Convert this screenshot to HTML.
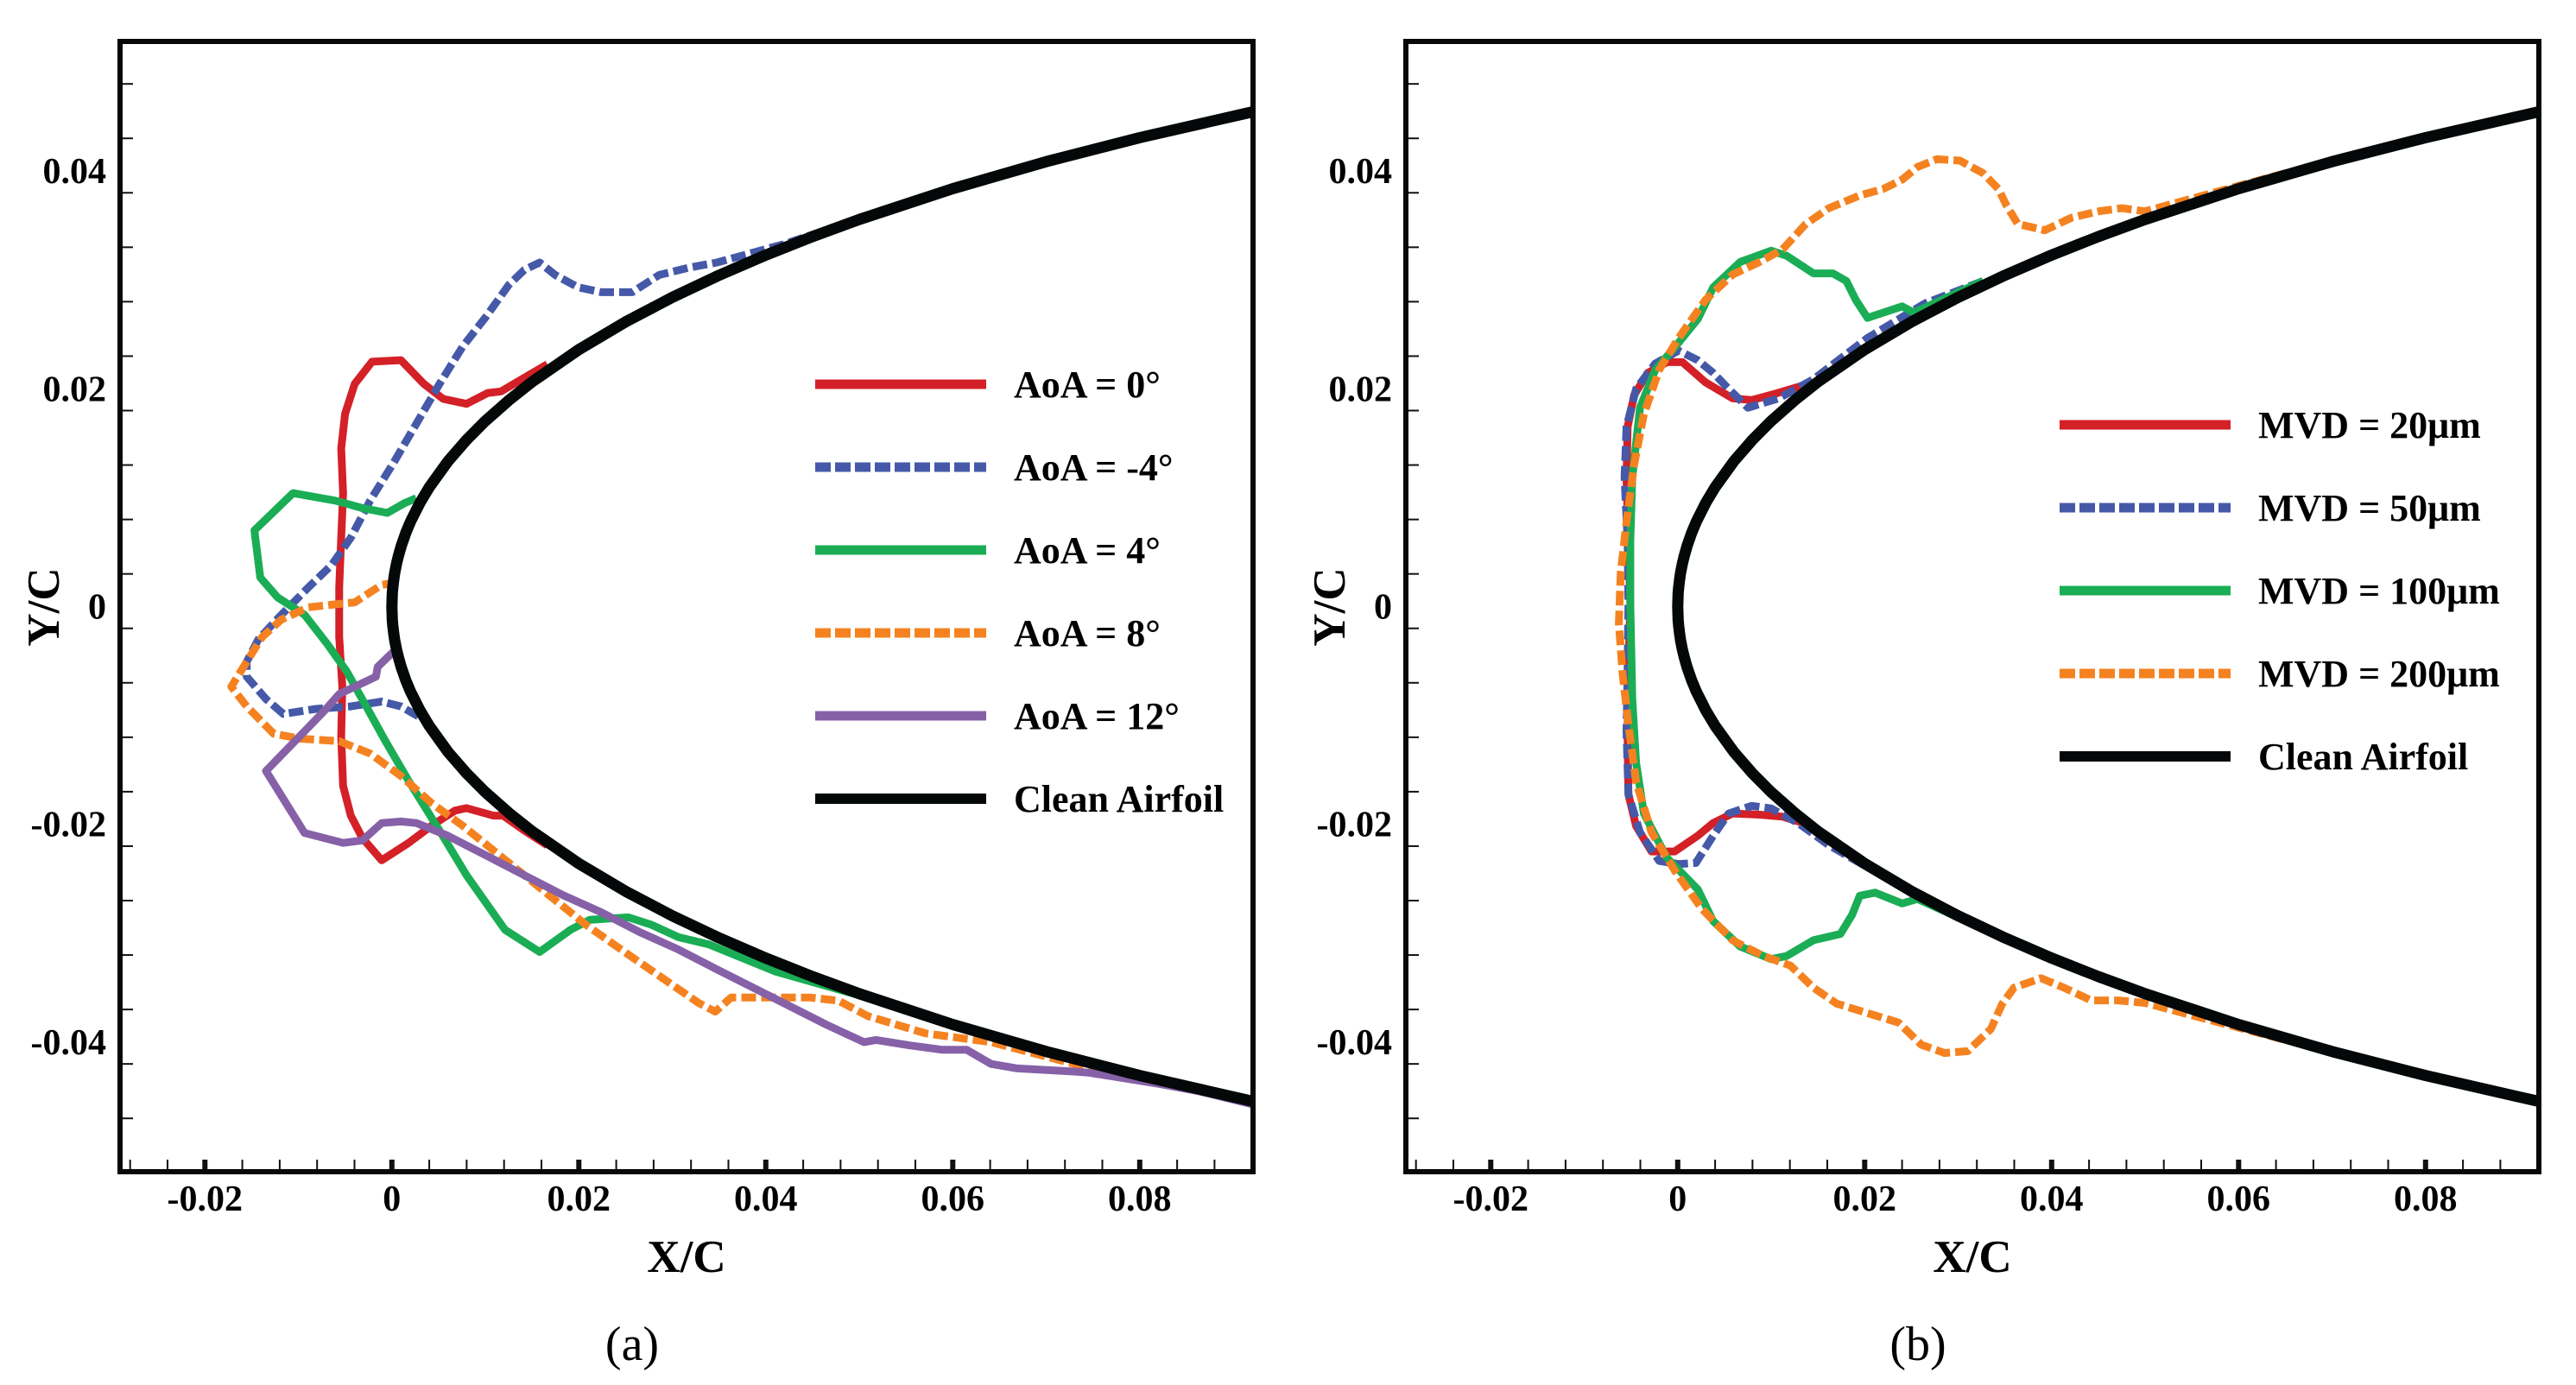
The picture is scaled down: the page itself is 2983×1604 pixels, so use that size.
<!DOCTYPE html>
<html><head><meta charset="utf-8">
<style>
html,body{margin:0;padding:0;background:#fff;}
svg{display:block;}
text{font-family:"Liberation Serif",serif;}
</style></head>
<body>
<svg id="fig" width="2983" height="1604" viewBox="0 0 2983 1604" xmlns="http://www.w3.org/2000/svg"></svg>
<script>
// ---------- data ----------
const xTicks = [-0.02, 0, 0.02, 0.04, 0.06, 0.08];
const xTickLabels = ["-0.02", "0", "0.02", "0.04", "0.06", "0.08"];
const yTicks = [-0.04, -0.02, 0, 0.02, 0.04];
const yTickLabels = ["-0.04", "-0.02", "0", "0.02", "0.04"];

const airfoilX = [0, 0.00005, 0.0001, 0.0002, 0.0003, 0.0005, 0.0007, 0.001, 0.0015, 0.002, 0.003, 0.004, 0.006, 0.008, 0.01, 0.0125, 0.015, 0.02, 0.025, 0.03, 0.035, 0.04, 0.045, 0.05, 0.06, 0.07, 0.08, 0.092];
const airfoilY = [0, 0.001256, 0.001774, 0.002504, 0.003063, 0.00395, 0.00466, 0.00556, 0.006786, 0.00781, 0.009529, 0.01096, 0.01334, 0.01532, 0.01704, 0.018938, 0.02064, 0.0236, 0.026146, 0.0284, 0.03043, 0.03228, 0.033976, 0.03555, 0.03838, 0.04086, 0.04307, 0.04542];

// (a) angle of attack
const aoa0X = [0.01664,0.01169,0.01025,0.00798,0.0055,0.00344,0.00097,-0.00212,-0.00398,-0.00501,-0.00542,-0.00522,-0.00542,-0.00563,-0.00563,-0.0053,-0.00542,-0.00522,-0.0044,-0.00316,-0.00109,0.00179,0.00427,0.00674,0.00798,0.01086,0.0119,0.01416,0.01664];
const aoa0Y = [0.02226,0.01976,0.01962,0.01862,0.01907,0.02044,0.02263,0.02249,0.02044,0.01771,0.01452,0.01042,0.00632,0.00176,-0.0028,-0.00735,-0.01191,-0.01646,-0.0192,-0.02125,-0.0233,-0.0217,-0.02011,-0.01874,-0.01851,-0.0192,-0.0192,-0.02056,-0.02193];
const aoaM4X = [0.05,0.042,0.03478,0.0319,0.0286,0.02571,0.02241,0.01994,0.01746,0.01581,0.01416,0.01251,0.01004,0.00756,0.00509,0.00262,0.00014,-0.00233,-0.0044,-0.00646,-0.00893,-0.01182,-0.01429,-0.01553,-0.01553,-0.01347,-0.01161,-0.00811,-0.0044,-0.00109,0.00097,0.00282];
const aoaM4Y = [0.0356,0.0333,0.0316,0.03115,0.03046,0.02887,0.02887,0.02932,0.03046,0.0316,0.03092,0.02955,0.02659,0.02386,0.02044,0.0168,0.01315,0.00973,0.00632,0.00381,0.00176,-0.00075,-0.00302,-0.00507,-0.00644,-0.00849,-0.00986,-0.0094,-0.00917,-0.00872,-0.00917,-0.01008];
const aoa4X = [0.00261,0.00138,-0.00048,-0.00316,-0.00605,-0.01058,-0.01471,-0.01408,-0.01223,-0.00934,-0.00687,-0.00481,-0.00274,-0.00068,0.00179,0.00509,0.00798,0.0121,0.01581,0.01911,0.02117,0.0253,0.02777,0.03066,0.03396,0.041,0.05];
const aoa4Y = [0.00996,0.00951,0.0086,0.00905,0.00973,0.01042,0.007,0.00267,0.00085,-0.00075,-0.00348,-0.00598,-0.00917,-0.01236,-0.01601,-0.02056,-0.02467,-0.02968,-0.03172,-0.02968,-0.02876,-0.02854,-0.02922,-0.03036,-0.03104,-0.0335,-0.0357];
const aoa8X = [0.00055,-0.00109,-0.00233,-0.00398,-0.00646,-0.00893,-0.01182,-0.01388,-0.01553,-0.01718,-0.01553,-0.01264,-0.00975,-0.00563,-0.00233,0.00097,0.00427,0.00756,0.01086,0.01416,0.01746,0.02076,0.0252,0.0328,0.0346,0.0363,0.0403,0.0447,0.0478,0.0509,0.0571,0.0641,0.073,0.08];
const aoa8Y = [0.00222,0.00199,0.00131,0.00039,0.00017,-0.00006,-0.0012,-0.0028,-0.00507,-0.00735,-0.00917,-0.01168,-0.01213,-0.01236,-0.0135,-0.01555,-0.01806,-0.02011,-0.02239,-0.02467,-0.02695,-0.02922,-0.0319,-0.0364,-0.0372,-0.0359,-0.0359,-0.0359,-0.0362,-0.0376,-0.0392,-0.04,-0.042,-0.0432];
const aoa12X = [0.00014,-0.00151,-0.00171,-0.00563,-0.00728,-0.00934,-0.01347,-0.00934,-0.00522,-0.00316,-0.00109,0.00097,0.00262,0.00592,0.01004,0.01416,0.01829,0.02241,0.02653,0.03066,0.03478,0.0465,0.0505,0.0518,0.0554,0.0589,0.0615,0.0641,0.0668,0.073,0.0745,0.0775,0.0819,0.0863,0.092];
const aoa12Y = [-0.00416,-0.00553,-0.00644,-0.00803,-0.00963,-0.01145,-0.0151,-0.02079,-0.0217,-0.02147,-0.01988,-0.01974,-0.01988,-0.02102,-0.02284,-0.02467,-0.02649,-0.02808,-0.0299,-0.0315,-0.03332,-0.0384,-0.04,-0.0398,-0.0403,-0.0407,-0.0407,-0.042,-0.0424,-0.0427,-0.0428,-0.0432,-0.0438,-0.0445,-0.0457];

// (b) median volume diameter
const mvd20X = [0.01452,0.0104,0.00792,0.00586,0.00297,0.0005,-0.00115,-0.00321,-0.00466,-0.00536,-0.00548,-0.00527,-0.00507,-0.00527,-0.00536,-0.00527,-0.00445,-0.0028,-0.00033,0.00215,0.0038,0.00586,0.00875,0.01122,0.01452];
const mvd20Y = [0.02059,0.01954,0.01896,0.01913,0.02059,0.02245,0.02245,0.02146,0.01942,0.01651,0.01185,0.00603,0.00021,-0.00561,-0.01143,-0.01725,-0.02016,-0.02249,-0.02249,-0.02104,-0.01987,-0.019,-0.01911,-0.01929,-0.02016];
const mvd50X = [0.03267,0.02648,0.0203,0.01452,0.01081,0.00751,0.00545,0.0038,0.00215,0.00009,-0.00239,-0.00445,-0.00548,-0.00569,-0.00536,-0.00527,-0.00536,-0.00548,-0.00527,-0.00404,-0.00198,0.00009,0.00194,0.0038,0.00545,0.00792,0.00999,0.01287,0.01617,0.0203,0.02648,0.03267];
const mvd50Y = [0.0299,0.02786,0.02466,0.02088,0.01913,0.01826,0.02,0.02146,0.02262,0.0235,0.02233,0.02,0.01651,0.01185,0.00603,0.00021,-0.00561,-0.01143,-0.01725,-0.02074,-0.02336,-0.02365,-0.02354,-0.02104,-0.019,-0.0183,-0.01853,-0.01987,-0.02191,-0.02394,-0.02685,-0.02959];
const mvd100X = [0.03267,0.02525,0.02401,0.0203,0.01906,0.01803,0.01659,0.01452,0.01164,0.00999,0.00669,0.0038,0.00215,-0.00033,-0.00239,-0.00404,-0.00486,-0.00507,-0.00507,-0.00486,-0.00445,-0.00362,-0.00115,0.00215,0.0038,0.00669,0.00999,0.01164,0.01452,0.01741,0.01865,0.01947,0.02112,0.02401,0.02566,0.03267];
const mvd100Y = [0.0299,0.02699,0.02757,0.02652,0.02815,0.0299,0.0306,0.0306,0.03223,0.03269,0.03165,0.02932,0.02641,0.02379,0.02175,0.01826,0.01185,0.00603,0.00021,-0.00852,-0.01434,-0.019,-0.02307,-0.02598,-0.02889,-0.03122,-0.03238,-0.03209,-0.03064,-0.03006,-0.02831,-0.02656,-0.02627,-0.02726,-0.02685,-0.02959];
const mvd200X = [0.065,0.05,0.04751,0.04504,0.04215,0.03926,0.03638,0.03514,0.03432,0.03267,0.03019,0.02772,0.02566,0.02401,0.02195,0.01947,0.01617,0.0137,0.01122,0.00875,0.00586,0.00297,0.00009,-0.00198,-0.00362,-0.00466,-0.00548,-0.0061,-0.0063,-0.00589,-0.00527,-0.00445,-0.0028,-0.00033,0.00256,0.00586,0.00916,0.01205,0.01452,0.017,0.0203,0.0236,0.02607,0.02855,0.03102,0.0335,0.03473,0.03597,0.03886,0.04133,0.04422,0.04711,0.05,0.065];
const mvd200Y = [0.0398,0.0363,0.03659,0.0363,0.03572,0.03456,0.03514,0.03688,0.03834,0.0398,0.04096,0.04108,0.04038,0.03921,0.03834,0.03776,0.03659,0.03514,0.03281,0.03165,0.03048,0.02816,0.02466,0.02175,0.01767,0.01302,0.00778,0.00312,-0.00153,-0.00619,-0.01085,-0.01609,-0.02074,-0.02423,-0.02773,-0.03064,-0.03209,-0.03296,-0.035,-0.03646,-0.03733,-0.0382,-0.04024,-0.041,-0.04083,-0.03879,-0.03646,-0.035,-0.03413,-0.035,-0.03617,-0.03617,-0.0364,-0.0398];

// ---------- rendering ----------
const NS = "http://www.w3.org/2000/svg";
const svg = document.getElementById("fig");
function mk(tag, attrs, parent) {
  const e = document.createElementNS(NS, tag);
  for (const k in attrs) e.setAttribute(k, attrs[k]);
  (parent || svg).appendChild(e);
  return e;
}
const XMIN = -0.02908, XMAX = 0.09212, YMIN = -0.0519, YMAX = 0.0519;
const PW = 1312, PH = 1309;
const COL = {red:"#d42027", blue:"#4559a8", green:"#1aad55", orange:"#f58220", purple:"#8661a8", black:"#050808"};

function panel(ox, oy, series, legendX, legendY, letter, name) {
  const g = mk("g", {});
  
  
  const sx = v => ox + (v - XMIN) / (XMAX - XMIN) * PW;
  const sy = v => oy + (YMAX - v) / (YMAX - YMIN) * PH;
  const clipId = "clip" + letter;
  const cp = mk("clipPath", {id: clipId}, g);
  mk("rect", {x: ox, y: oy, width: PW, height: PH}, cp);
  const plotG = mk("g", {"clip-path": "url(#" + clipId + ")"}, g);
  
  

  series.forEach(s => {
    let d = "";
    s.x.forEach((v, i) => { d += (i ? "L" : "M") + sx(v).toFixed(1) + " " + sy(s.y[i]).toFixed(1); });
    const p = mk("path", {d: d, fill: "none", stroke: s.c, "stroke-width": 9, "stroke-linejoin": "round", "stroke-linecap": "butt"}, plotG);
    if (s.dash) p.setAttribute("stroke-dasharray", "17 6");
    
    
  });
  // airfoil
  let d = "";
  for (let i = airfoilX.length - 1; i >= 0; i--) d += (d ? "L" : "M") + sx(airfoilX[i]).toFixed(1) + " " + sy(airfoilY[i]).toFixed(1);
  for (let i = 1; i < airfoilX.length; i++) d += "L" + sx(airfoilX[i]).toFixed(1) + " " + sy(-airfoilY[i]).toFixed(1);
  const af = mk("path", {d: d, fill: "none", stroke: COL.black, "stroke-width": 13, "stroke-linejoin": "round"}, plotG);
  
  

  // ticks
  for (let v = -0.052; v <= 0.0521; v += 0.005) {
    const vv = Math.round(v * 1000) / 1000;
    if (vv < YMIN || vv > YMAX) continue;
    const major = Math.abs(Math.round(vv * 1000) % 20) === 0;
    const t = mk("line", {x1: ox, x2: ox + (major ? 27 : 15), y1: sy(vv), y2: sy(vv), stroke: "#111", "stroke-width": major ? 6 : 2}, g);
    
    
  }
  for (let k = -7; k <= 23; k++) {
    const vv = k * 0.004;
    if (vv < XMIN || vv > XMAX) continue;
    const major = k % 5 === 0;
    const t = mk("line", {x1: sx(vv), x2: sx(vv), y1: oy + PH, y2: oy + PH - 14, stroke: "#111", "stroke-width": major ? 6 : 2}, g);
    
    
  }
  const frame = mk("rect", {x: ox, y: oy, width: PW, height: PH, fill: "none", stroke: "#080808", "stroke-width": 6}, g);
  
  

  yTicks.forEach((v, i) => {
    const t = mk("text", {x: ox - 16, y: sy(v) + 14, "text-anchor": "end", "font-size": 42, "font-weight": "bold"}, g);
    t.textContent = yTickLabels[i];
    
    
  });
  xTicks.forEach((v, i) => {
    const t = mk("text", {x: sx(v), y: oy + PH + 45, "text-anchor": "middle", "font-size": 42, "font-weight": "bold"}, g);
    t.textContent = xTickLabels[i];
    
    
  });
  const xt = mk("text", {x: ox + PW / 2, y: 1473, "text-anchor": "middle", "font-size": 53, "font-weight": "bold"}, g);
  xt.textContent = "X/C";
  
  
  const yt = mk("text", {x: 0, y: 0, "text-anchor": "middle", "font-size": 53, "font-weight": "bold", transform: "translate(" + (ox - 71) + ",703) rotate(-90)"}, g);
  yt.textContent = "Y/C";
  
  
  const cap = mk("text", {x: ox + PW / 2 - 63, y: 1575, "text-anchor": "middle", "font-size": 56}, g);
  cap.textContent = "(" + letter + ")";
  
  

  // legend
  const leg = series.concat([{id: "clean-airfoil", c: COL.black, label: "Clean Airfoil", w: 12}]);
  leg.forEach((s, i) => {
    const yy = legendY + i * 96;
    const eg = mk("g", {}, g);
    
    
    const ln = mk("line", {x1: legendX, x2: legendX + 198, y1: yy, y2: yy, stroke: s.c, "stroke-width": s.w || 11}, eg);
    if (s.dash) ln.setAttribute("stroke-dasharray", "18 5");
    
    
    const tx = mk("text", {x: legendX + 230, y: yy + 15, "font-size": 44, "font-weight": "bold"}, eg);
    tx.textContent = s.label;
    
    
  });
}

panel(139, 48, [
  {id: "aoa-0-line", x: aoa0X, y: aoa0Y, c: COL.red, label: "AoA = 0°"},
  {id: "aoa-minus4-line", x: aoaM4X, y: aoaM4Y, c: COL.blue, dash: true, label: "AoA = -4°"},
  {id: "aoa-4-line", x: aoa4X, y: aoa4Y, c: COL.green, label: "AoA = 4°"},
  {id: "aoa-8-line", x: aoa8X, y: aoa8Y, c: COL.orange, dash: true, label: "AoA = 8°"},
  {id: "aoa-12-line", x: aoa12X, y: aoa12Y, c: COL.purple, label: "AoA = 12°"}
], 944, 445, "a", "panel-a-aoa");

panel(1628, 48, [
  {id: "mvd-20-line", x: mvd20X, y: mvd20Y, c: COL.red, label: "MVD = 20μm"},
  {id: "mvd-50-line", x: mvd50X, y: mvd50Y, c: COL.blue, dash: true, label: "MVD = 50μm"},
  {id: "mvd-100-line", x: mvd100X, y: mvd100Y, c: COL.green, label: "MVD = 100μm"},
  {id: "mvd-200-line", x: mvd200X, y: mvd200Y, c: COL.orange, dash: true, label: "MVD = 200μm"}
], 2385, 492, "b", "panel-b-mvd");
</script>
</body></html>
